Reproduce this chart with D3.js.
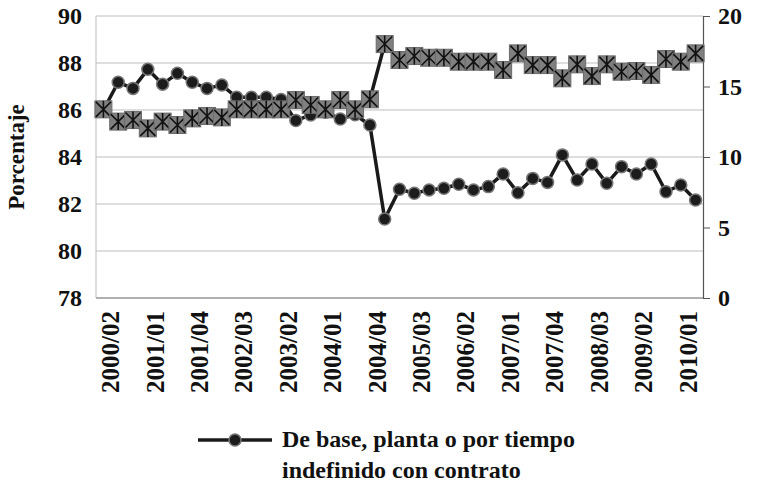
<!DOCTYPE html>
<html>
<head>
<meta charset="utf-8">
<script src="https://cdn.jsdelivr.net/npm/d3@7"></script>
<style>
  html, body { margin: 0; padding: 0; background: #fff; }
  svg { display: block; }
  text { font-family: "Liberation Serif", "Times New Roman", serif; font-weight: bold; fill: #111; }
</style>
</head>
<body>
<svg id="chart" width="758" height="494"></svg>
<script>
// ---- data ----
const categories = [
  "2000/02","2000/03","2000/04",
  "2001/01","2001/02","2001/03","2001/04",
  "2002/01","2002/02","2002/03","2002/04",
  "2003/01","2003/02","2003/03","2003/04",
  "2004/01","2004/02","2004/03","2004/04",
  "2005/01","2005/02","2005/03","2005/04",
  "2006/01","2006/02","2006/03","2006/04",
  "2007/01","2007/02","2007/03","2007/04",
  "2008/01","2008/02","2008/03","2008/04",
  "2009/01","2009/02","2009/03","2009/04",
  "2010/01","2010/02"
];
// Left axis series (circles): "De base, planta o por tiempo indefinido con contrato"
const seriesBase = [
  86.0, 87.18, 86.92, 87.73, 87.1, 87.56, 87.18, 86.92, 87.06, 86.54,
  86.54, 86.54, 86.45, 85.55, 85.79, 85.9, 85.62, 85.8, 85.36, 81.36,
  82.63, 82.46, 82.6, 82.67, 82.84, 82.6, 82.74, 83.28, 82.48, 83.09,
  82.92, 84.09, 83.02, 83.7, 82.88, 83.59, 83.28, 83.7, 82.52, 82.81,
  82.17
];
// Right axis series (star markers)
const seriesOther = [
  13.38, 12.51, 12.62, 12.03, 12.51, 12.27, 12.74, 12.91, 12.81, 13.38,
  13.38, 13.38, 13.38, 14.04, 13.69, 13.38, 14.04, 13.38, 14.09, 18.01,
  16.88, 17.16, 17.04, 17.04, 16.76, 16.76, 16.76, 16.17, 17.35, 16.52,
  16.52, 15.58, 16.57, 15.74, 16.57, 16.05, 16.1, 15.82, 16.95, 16.76,
  17.35
];
const leftTicks = [78, 80, 82, 84, 86, 88, 90];
const rightTicks = [0, 5, 10, 15, 20];
const xTickLabels = ["2000/02","2001/01","2001/04","2002/03","2003/02","2004/01","2004/04",
  "2005/03","2006/02","2007/01","2007/04","2008/03","2009/02","2010/01"];
const legendLines = ["De base, planta o por tiempo", "indefinido con contrato"];
const yTitle = "Porcentaje";

// ---- layout ----
const svg = d3.select("#chart");
const L = 96, R = 703, T = 16, B = 298;

const x = d3.scaleBand().domain(categories).range([L, R]).padding(0);
const cx = d => x(d) + x.bandwidth() / 2;
const yL = d3.scaleLinear().domain([78, 90]).range([B, T]);
const yR = d3.scaleLinear().domain([0, 20]).range([B, T]);

// gridlines
svg.append("g").selectAll("line").data(leftTicks.slice(1)).join("line")
  .attr("x1", L).attr("x2", R)
  .attr("y1", d => yL(d)).attr("y2", d => yL(d))
  .attr("stroke", "#bdbdbd").attr("stroke-width", 1);

// left axis line
svg.append("line").attr("x1", L).attr("x2", L).attr("y1", T).attr("y2", B)
  .attr("stroke", "#bdbdbd").attr("stroke-width", 1);
// bottom axis line
svg.append("line").attr("x1", L).attr("x2", R).attr("y1", B).attr("y2", B)
  .attr("stroke", "#b0b0b0").attr("stroke-width", 2);

// left axis labels
const gL = svg.append("g").attr("transform", `translate(${L},0)`)
  .call(d3.axisLeft(yL).tickValues(leftTicks).tickSize(0).tickPadding(14).tickFormat(d3.format("d")));
gL.select(".domain").remove();
gL.selectAll("text").style("font-family", "Liberation Serif").style("font-weight", "bold")
  .style("font-size", "24px").attr("fill", "#111");

// right axis
const gR = svg.append("g").attr("transform", `translate(${R},0)`)
  .call(d3.axisRight(yR).tickValues(rightTicks).tickSize(7).tickPadding(8).tickFormat(d3.format("d")));
gR.select(".domain").attr("stroke", "#555").attr("stroke-width", 1.2);
gR.selectAll(".tick line").attr("stroke", "#555");
gR.selectAll("text").style("font-family", "Liberation Serif").style("font-weight", "bold")
  .style("font-size", "24px").attr("fill", "#111");

// x axis labels
const gX = svg.append("g").attr("transform", `translate(0,${B})`)
  .call(d3.axisBottom(x).tickValues(xTickLabels).tickSize(0));
gX.select(".domain").remove();
gX.selectAll("text")
  .style("font-family", "Liberation Serif").style("font-weight", "bold")
  .style("font-size", "25px").attr("fill", "#111")
  .attr("text-anchor", "end")
  .attr("transform", "rotate(-90)")
  .attr("x", -13).attr("y", 0).attr("dy", "0.35em")
  .attr("dx", 0);
gX.selectAll(".tick").attr("transform", function(d) { return `translate(${cx(d) + 7},0)`; });

// y title
svg.append("text")
  .attr("transform", `translate(24,${(T + B) / 2}) rotate(-90)`)
  .attr("text-anchor", "middle")
  .style("font-size", "23px")
  .text(yTitle);

// series 1: circles (left axis)
const line1 = d3.line().x((d, i) => cx(categories[i])).y(d => yL(d));
svg.append("path").datum(seriesBase).attr("d", line1)
  .attr("fill", "none").attr("stroke", "#1a1a1a").attr("stroke-width", 3.5)
  .attr("stroke-linejoin", "round");
svg.append("g").selectAll("circle").data(seriesBase).join("circle")
  .attr("cx", (d, i) => cx(categories[i])).attr("cy", d => yL(d))
  .attr("r", 6).attr("fill", "#1c1c1c").attr("stroke", "#777").attr("stroke-width", 1.5);

// series 2: star markers (right axis)
const line2 = d3.line().x((d, i) => cx(categories[i])).y(d => yR(d));
svg.append("path").datum(seriesOther).attr("d", line2)
  .attr("fill", "none").attr("stroke", "#1a1a1a").attr("stroke-width", 3.5)
  .attr("stroke-linejoin", "round");
const s = 8.5;
const mk = svg.append("g").selectAll("g").data(seriesOther).join("g")
  .attr("transform", (d, i) => `translate(${cx(categories[i])},${yR(d)})`);
mk.append("rect").attr("x", -s).attr("y", -s).attr("width", 2 * s).attr("height", 2 * s)
  .attr("fill", "#808080").attr("stroke", "#6a6a6a").attr("stroke-width", 1);
mk.append("path")
  .attr("d", `M${-s + 1},${-s + 1}L${s - 1},${s - 1}M${s - 1},${-s + 1}L${-s + 1},${s - 1}M0,${-s}L0,${s}`)
  .attr("stroke", "#111").attr("stroke-width", 1.6);

// legend
const lgY = 440;
svg.append("line").attr("x1", 198).attr("x2", 272).attr("y1", lgY).attr("y2", lgY)
  .attr("stroke", "#1a1a1a").attr("stroke-width", 3.5);
svg.append("circle").attr("cx", 235).attr("cy", lgY).attr("r", 6)
  .attr("fill", "#1c1c1c").attr("stroke", "#777").attr("stroke-width", 1.5);
svg.append("text").attr("x", 282).attr("y", 447).style("font-size", "24px").text(legendLines[0]);
svg.append("text").attr("x", 282).attr("y", 478).style("font-size", "24px").text(legendLines[1]);
</script>
</body>
</html>
